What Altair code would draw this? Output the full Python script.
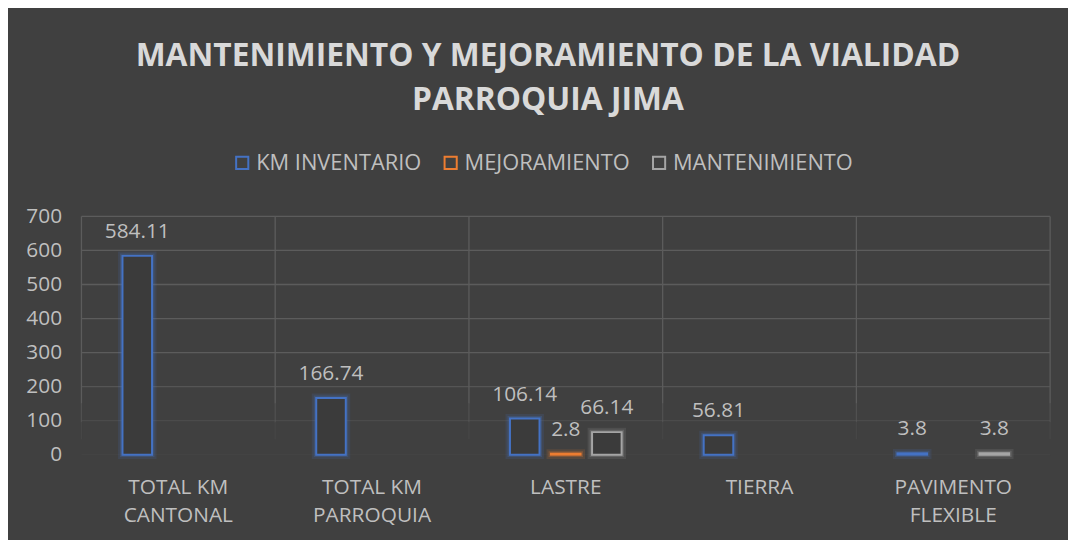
import altair as alt
import pandas as pd

categories = ["TOTAL KM\nCANTONAL", "TOTAL KM\nPARROQUIA", "LASTRE", "TIERRA", "PAVIMENTO\nFLEXIBLE"]
series = ["KM INVENTARIO", "MEJORAMIENTO", "MANTENIMIENTO"]
km_inventario = [584.11, 166.74, 106.14, 56.81, 3.8]
mejoramiento = [None, None, 2.8, None, None]
mantenimiento = [None, None, 66.14, None, 3.8]
colors = ["#4472C4", "#ED7D31", "#A5A5A5"]
y_ticks = [0, 100, 200, 300, 400, 500, 600, 700]
# gridlines fade out towards the baseline
hgrid_opacity = [0.12, 0.4, 0.75, 1, 1, 1, 1, 1]

rows = []
for s, vals in zip(series, [km_inventario, mejoramiento, mantenimiento]):
    for c, v in zip(categories, vals):
        if v is not None:
            rows.append({"cat": c, "serie": s, "value": v, "label": f"{v:g}"})
df = pd.DataFrame(rows)
hgrid_df = pd.DataFrame({"v": y_ticks, "op": hgrid_opacity})
cat_df = pd.DataFrame({"cat": categories})
last_df = pd.DataFrame({"cat": categories[-1:]})

BG = "#404040"
TXT = "#BFBFBF"
FONT = "Open Sans"
GRID = "#5c5c5c"

xscale = alt.Scale(domain=categories, paddingInner=0, paddingOuter=0)
xaxis = alt.Axis(title=None, labelExpr="split(datum.label, '\\n')", labelAngle=0,
                 ticks=False, domain=False, grid=False,
                 labelPadding=22, labelLineHeight=28, labelFontSize=21,
                 labelColor=TXT, labelFont=FONT)
xenc = alt.X("cat:N", sort=categories, scale=xscale, axis=xaxis)
xoff = alt.XOffset("serie:N", sort=series,
                   scale=alt.Scale(domain=series, paddingInner=0.28, paddingOuter=1))
yscale = alt.Scale(domain=[0, 700], nice=False)
yaxis = alt.Axis(title=None, values=y_ticks, tickCount=8, ticks=False, domain=False, grid=False,
                 labelOverlap=False, labelPadding=20, labelFontSize=21,
                 labelColor=TXT, labelFont=FONT)
yenc = alt.Y("value:Q", scale=yscale, axis=yaxis)
color_scale = alt.Scale(domain=series, range=colors)
legend = alt.Legend(title=None, orient="none", direction="horizontal",
                    legendX=151, legendY=-65, symbolType="square",
                    symbolSize=150, symbolStrokeWidth=2, labelLimit=400,
                    labelFontSize=22, labelColor=TXT, labelFont=FONT,
                    labelOffset=3, columnPadding=18)
stroke = alt.Stroke("serie:N", scale=color_scale, legend=legend)

# gridlines
hgrid = alt.Chart(hgrid_df).mark_rule(color=GRID, strokeWidth=1.3).encode(
    y=alt.Y("v:Q", scale=yscale, axis=yaxis),
    strokeOpacity=alt.StrokeOpacity("op:Q", scale=None, legend=None),
)


def vgrid(data, band_pos, top, bottom, op):
    return alt.Chart(data).mark_rule(color=GRID, strokeWidth=1.3, strokeOpacity=op).encode(
        x=alt.X("cat:N", sort=categories, scale=xscale, axis=xaxis, bandPosition=band_pos),
        y=alt.Y(datum=top, type="quantitative", scale=yscale, axis=yaxis),
        y2=alt.Y2(datum=bottom),
    )


vlines = [
    vgrid(cat_df, 0, 700, 150, 1.0), vgrid(cat_df, 0, 150, 95, 0.55), vgrid(cat_df, 0, 95, 45, 0.22),
    vgrid(last_df, 1, 700, 150, 1.0), vgrid(last_df, 1, 150, 95, 0.55), vgrid(last_df, 1, 95, 45, 0.22),
]

base = alt.Chart(df)
glow1 = base.mark_bar(fill=BG, strokeWidth=9, strokeOpacity=0.14).encode(
    x=xenc, xOffset=xoff, y=yenc, stroke=stroke)
glow2 = base.mark_bar(fill=BG, strokeWidth=5, strokeOpacity=0.25).encode(
    x=xenc, xOffset=xoff, y=yenc, stroke=stroke)
bars = base.mark_bar(fill="#3b3b3b", strokeWidth=2).encode(
    x=xenc, xOffset=xoff, y=yenc, stroke=stroke)
labels = base.mark_text(fontSize=21, font=FONT, color=TXT, baseline="alphabetic", dy=-18).encode(
    x=xenc, xOffset=xoff, y=yenc, text="label:N")

chart = alt.layer(hgrid, *vlines, glow1, glow2, bars, labels).properties(
    width=976, height=240,
    background=BG,
    autosize=alt.AutoSizeParams(type="none"),
    padding={"left": 74, "top": 208, "right": 18, "bottom": 84},
    title=alt.Title(["MANTENIMIENTO Y MEJORAMIENTO DE LA VIALIDAD", "PARROQUIA JIMA"],
                    font=FONT, fontSize=32, fontWeight="bold", color="#D9D9D9",
                    anchor="middle", lineHeight=45, offset=35, dx=-18),
).configure_view(strokeWidth=0, strokeOpacity=0)

chart.save("out.html", embed_options={"renderer": "svg", "actions": False})
